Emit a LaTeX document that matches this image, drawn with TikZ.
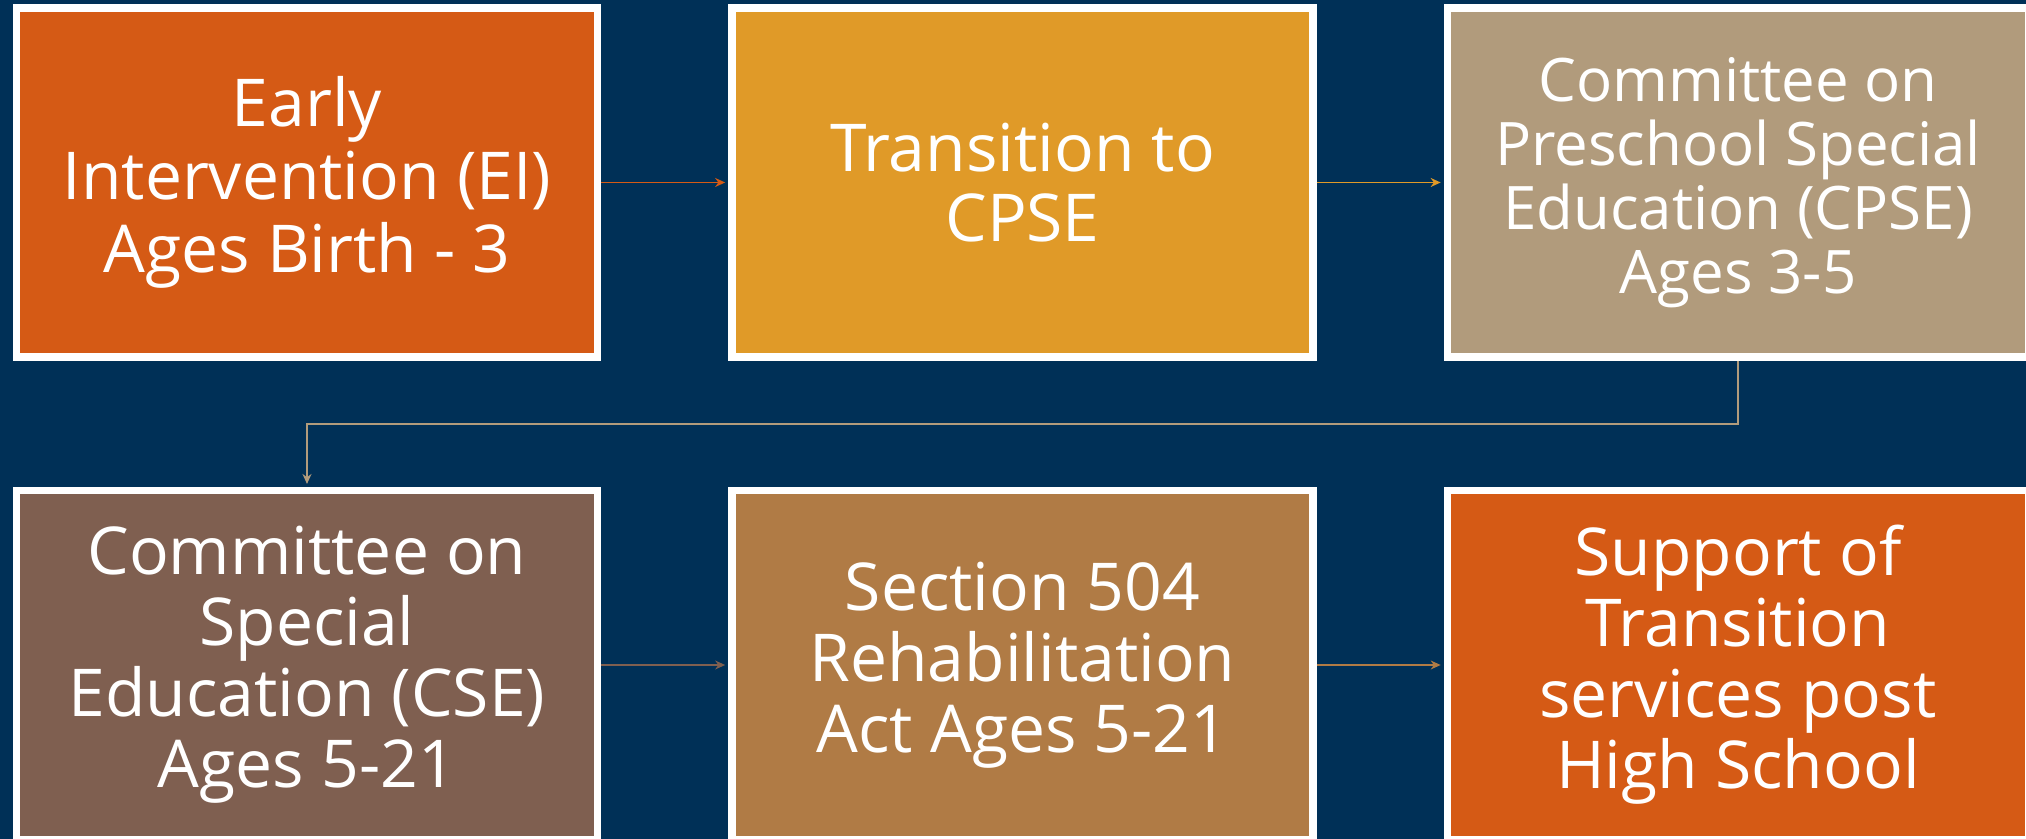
\documentclass[tikz,border=0pt]{standalone}
\usepackage{fontspec}
\setmainfont{Open Sans}
\usetikzlibrary{arrows.meta}
\definecolor{navy}{HTML}{003057}
\definecolor{cA}{HTML}{D55A15}
\definecolor{cB}{HTML}{E09A28}
\definecolor{cC}{HTML}{B19B7C}
\definecolor{cD}{HTML}{7F5F50}
\definecolor{cE}{HTML}{B07B45}
\definecolor{cF}{HTML}{D55A15}
\tikzset{
  stagebox/.style={draw=white, line width=3.75pt, minimum width=290.6pt, minimum height=174.3pt,
    inner sep=0pt, align=center, text=white,
    font=\fontsize{33}{35.5}\selectfont},
  conn/.style={line width=0.75pt, -{Stealth[length=5pt,width=4.5pt]}, shorten >=1.5pt}
}
\begin{document}
\begin{tikzpicture}[x=0.5pt,y=-0.5pt]
\fill[navy] (0,0) rectangle (2026,839);
\useasboundingbox (0,0) rectangle (2026,839);
\node[stagebox, fill=cA, font=\fontsize{33}{36.5}\selectfont] (b1) at (307,182.5) {Early\\Intervention (EI)\\Ages Birth - 3};
\node[stagebox, fill=cB, font=\fontsize{33}{35}\selectfont] (b2) at (1022.5,182.5) {Transition to\\CPSE};
\node[stagebox, fill=cC, font=\fontsize{30}{32}\selectfont] (b3) at (1738,182.5) {Committee on\\Preschool Special\\Education (CPSE)\\Ages 3-5};
\node[stagebox, fill=cD] (b4) at (307,665) {Committee on\\Special\\Education (CSE)\\Ages 5-21};
\node[stagebox, fill=cE] (b5) at (1022.5,665) {Section 504\\Rehabilitation\\Act Ages 5-21};
\node[stagebox, fill=cF] (b6) at (1738,665) {Support of\\Transition\\services post\\High School};
\coordinate (k1) at (1738,424);
\coordinate (k2) at (307,424);
\draw[conn, draw=cA] (b1) -- (b2);
\draw[conn, draw=cB] (b2) -- (b3);
\draw[conn, draw=cC] (b3.south) -- (k1) -- (k2) -- (b4.north);
\draw[conn, draw=cD] (b4) -- (b5);
\draw[conn, draw=cE] (b5) -- (b6);
\end{tikzpicture}
\end{document}
